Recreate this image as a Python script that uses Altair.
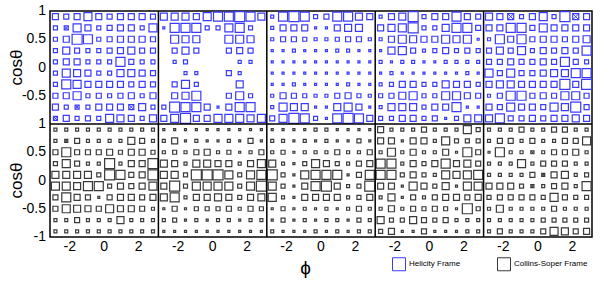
import math
import altair as alt
import pandas as pd

# ---- data: box sizes (rows: cos(theta) top -> bottom, cols: phi left -> right)
# negative value = crossed box
frames = ["Helicity Frame", "Collins-Soper Frame"]
colors = ["#3a3aff", "#3a3a3a"]

H1 = [[6,5,6,8,6,5,6,6,6,5],
      [4,-4,8,6,4,5,6,6,4,8],
      [4,6,10,9,4,5,6,6,6,5],
      [4,7,5,4,4,5,6,7,5,5],
      [4,6,6,4,4,4,9,5,4,4],
      [4,8,7,6,4,4,7,7,6,5],
      [4,9,8,6,6,6,6,5,6,5],
      [5,6,8,4,5,4,5,6,4,6],
      [6,4,-4,4,6,6,6,-5,7,4],
      [-4,6,4,5,4,8,7,6,4,7]]
H2 = [[7,7,7,6,8,9,9,10,9,7],
      [2,9,9,9,4,4,8,9,4,0],
      [0,8,7,7,0,0,8,8,7,0],
      [0,5,7,5,0,0,5,6,5,0],
      [0,3,4,0,0,0,0,3,3,0],
      [0,0,3,3,0,0,5,3,0,0],
      [0,5,8,4,0,0,0,7,0,0],
      [0,6,7,9,0,0,5,8,4,0],
      [4,10,9,9,6,2,6,9,9,0],
      [6,8,10,6,6,8,8,8,7,8]]
H3 = [[3,9,10,9,4,5,9,9,7,6],
      [3,6,6,6,2,2,6,7,7,0],
      [3,5,5,4,3,3,4,5,5,3],
      [2,2,3,2,2,2,3,3,2,2],
      [2,2,2,2,2,2,2,2,2,2],
      [2,2,2,2,2,2,2,2,2,2],
      [2,2,3,2,2,2,2,3,2,2],
      [3,6,5,4,3,3,5,6,4,3],
      [3,8,7,7,2,2,7,8,6,2],
      [5,8,10,9,4,2,9,10,9,6]]
H4 = [[3,6,7,10,4,6,6,9,6,5],
      [6,7,8,10,4,4,7,9,9,5],
      [3,6,8,7,6,6,8,7,8,2],
      [2,7,8,5,3,4,6,4,5,4],
      [3,2,3,3,2,2,3,3,3,3],
      [2,3,2,2,2,2,2,2,3,2],
      [3,4,6,6,4,4,7,6,6,4],
      [4,5,7,8,4,4,8,8,6,5],
      [3,7,7,7,4,6,6,9,2,2],
      [4,4,6,6,4,5,2,4,7,7]]
H5 = [[7,6,-6,4,6,8,4,10,-6,6],
      [6,6,9,9,5,8,6,6,6,6],
      [3,9,6,9,5,6,6,5,6,7],
      [5,7,5,8,4,6,5,6,5,9],
      [5,5,6,5,5,6,5,9,5,4],
      [8,5,8,5,5,6,7,7,9,9],
      [6,7,7,6,6,6,6,10,6,10],
      [3,5,9,9,5,6,5,8,8,5],
      [6,5,8,6,6,5,8,7,10,5],
      [7,9,5,5,6,5,6,6,7,6]]

C1 = [[3,3,3,3,3,3,3,3,3,3],
      [3,-3,5,3,3,3,3,7,5,3],
      [5,9,5,5,5,6,4,6,6,4],
      [4,8,5,3,3,10,3,6,6,10],
      [7,7,7,7,4,10,9,5,6,10],
      [8,8,7,9,9,4,6,5,6,8],
      [5,9,6,5,2,5,6,6,5,6],
      [5,8,7,6,5,8,6,6,5,3],
      [3,3,5,3,3,3,7,3,3,3],
      [3,3,3,3,3,3,3,3,3,3]]
C2 = [[2,2,2,2,2,2,2,2,2,2],
      [3,6,2,3,2,2,3,2,5,2],
      [3,4,3,5,6,3,4,2,3,5],
      [7,6,3,7,7,6,6,3,6,8],
      [7,7,4,10,10,10,8,4,8,9],
      [6,10,4,8,8,8,8,4,8,10],
      [7,9,3,6,6,7,6,4,6,7],
      [2,5,2,4,4,4,5,3,5,4],
      [3,4,2,3,2,3,3,2,3,3],
      [2,2,2,2,2,2,2,2,2,2]]
C3 = [[2,2,2,2,3,3,2,2,2,2],
      [3,3,2,3,2,3,2,2,4,2],
      [3,4,2,3,3,3,5,3,3,5],
      [7,3,2,4,8,6,4,3,5,6],
      [10,4,2,8,9,9,9,2,5,9],
      [8,4,2,6,9,10,6,3,4,10],
      [8,3,2,6,6,6,6,3,4,6],
      [2,4,2,3,2,3,2,3,5,3],
      [2,4,2,3,2,3,3,2,4,3],
      [3,2,2,2,3,2,3,2,3,3]]
C4 = [[6,3,3,3,5,3,3,3,8,4],
      [6,6,2,6,6,3,8,4,4,4],
      [3,8,3,6,3,3,6,2,9,5],
      [9,9,3,6,4,6,9,6,7,5],
      [9,9,4,6,4,3,8,7,8,9],
      [6,6,2,8,6,4,7,2,8,8],
      [3,7,2,5,3,5,6,6,5,6],
      [3,6,3,5,4,5,4,2,10,4],
      [7,4,4,7,5,4,5,3,3,3],
      [4,6,2,2,5,2,2,2,3,3]]
C5 = [[3,3,3,5,3,3,5,5,3,3],
      [3,5,5,3,5,3,3,5,5,8],
      [2,9,3,3,-3,3,5,5,6,3],
      [3,3,3,8,3,5,5,5,3,3],
      [3,3,3,3,5,-3,6,7,3,4],
      [6,6,6,4,-3,3,5,6,3,9],
      [4,5,5,5,5,4,8,5,4,4],
      [3,7,3,3,3,3,5,3,3,3],
      [3,3,3,3,3,4,4,4,4,4],
      [3,5,3,3,3,5,8,7,5,6]]

panels = {frames[0]: [H1, H2, H3, H4, H5], frames[1]: [C1, C2, C3, C4, C5]}
x_tick_labels = [-2, 0, 2]
y_tick_labels = [-1, -0.5, 0, 0.5, 1]
y_title = "cosθ"
x_title = "ϕ"
n_bins = 10
n_panels = 5
TWO_PI = 2 * math.pi

rows = []
for f_i, frame in enumerate(frames):
    offset = 3 if f_i == 0 else 1
    for k, grid in enumerate(panels[frame]):
        for i, row in enumerate(grid):
            cos_c = 1 - (i + 0.5) * 2 / n_bins
            for j, v in enumerate(row):
                if v == 0:
                    continue
                phi_c = -math.pi + (j + 0.5) * TWO_PI / n_bins
                rows.append({"frame": frame, "v": v, "a": abs(v),
                             "xpos": phi_c + math.pi + TWO_PI * k,
                             "ypos": cos_c + offset})
df = pd.DataFrame(rows)

# tick label tables (built from the tick label lists)
xl = pd.DataFrame([{"xpos": TWO_PI * k + math.pi + t, "lab": f"{t:g}"}
                   for k in range(n_panels) for t in x_tick_labels])
yl_rows = []
for offset in (3, 1):
    for c in y_tick_labels:
        if offset == 3 and c == -1:
            continue  # hidden under the lower panel's "1"
        yl_rows.append({"ypos": c + offset, "lab": f"{c:g}"})
yl = pd.DataFrame(yl_rows)

FONT = "Liberation Sans"

x_enc = alt.X("xpos:Q",
              scale=alt.Scale(domain=[0, TWO_PI * n_panels], nice=False, zero=False),
              axis=alt.Axis(labels=False, ticks=False, domain=False, grid=False,
                            title=x_title, titleX=255, titleY=30, titleBaseline="middle",
                            titleFontSize=19, titleFontWeight="normal", titleFont=FONT,
                            titleColor="black"))
y_enc = alt.Y("ypos:Q",
              scale=alt.Scale(domain=[0, 4], nice=False, zero=False),
              axis=None)

size_enc = alt.Size("a:Q", scale=alt.Scale(type="pow", exponent=2, domain=[0, 10], range=[0, 100]),
                    legend=None)
color_scale = alt.Scale(domain=frames, range=colors)

squares = alt.Chart(df).mark_square(filled=False, strokeWidth=1.2, opacity=1).encode(
    x=x_enc, y=y_enc, size=size_enc,
    color=alt.Color("frame:N", scale=color_scale,
                    legend=alt.Legend(orient="none", legendX=342, legendY=246,
                                      direction="horizontal", title=None,
                                      symbolType="square", symbolSize=169,
                                      symbolStrokeWidth=1, labelFont=FONT,
                                      labelFontSize=8, labelOffset=3,
                                      columnPadding=34, padding=0)))

crosses = alt.Chart(df).transform_filter("datum.v < 0").mark_point(
    shape="M-1,-1L1,1M1,-1L-1,1", filled=False, strokeWidth=1, opacity=1).encode(
    x="xpos:Q", y="ypos:Q", size=alt.Size("a:Q"), color=alt.Color("frame:N"))

vrules = alt.Chart(pd.DataFrame({"xpos": [TWO_PI * k for k in range(1, n_panels)]})).mark_rule(
    color="black", strokeWidth=1.5).encode(x="xpos:Q")
hrule = alt.Chart(pd.DataFrame({"ypos": [2]})).mark_rule(
    color="black", strokeWidth=1.5).encode(y="ypos:Q")

xlabels = alt.Chart(xl).mark_text(fontSize=14, font=FONT, color="black",
                                  baseline="top", align="center", dy=3).encode(
    x="xpos:Q", y=alt.datum(0), text="lab:N")
ylabels = alt.Chart(yl).mark_text(fontSize=14, font=FONT, color="black",
                                  baseline="middle", align="right", dx=-4).encode(
    y="ypos:Q", x=alt.datum(0), text="lab:N")

ytitles = alt.Chart(pd.DataFrame({"ypos": [3, 1], "t": [y_title, y_title]})).mark_text(
    angle=270, fontSize=17, font=FONT, color="black", baseline="middle", align="center").encode(
    y="ypos:Q", x=alt.value(-33), text="t:N")

chart = alt.layer(squares, crosses, vrules, hrule, xlabels, ylabels, ytitles).properties(
    width=542, height=226,
    autosize=alt.AutoSizeParams(type="none"),
    padding={"left": 50, "top": 11, "right": 8, "bottom": 44},
).configure_view(stroke="black", strokeWidth=1.5)

chart.save("out.html", embed_options={"renderer": "svg", "actions": False})
